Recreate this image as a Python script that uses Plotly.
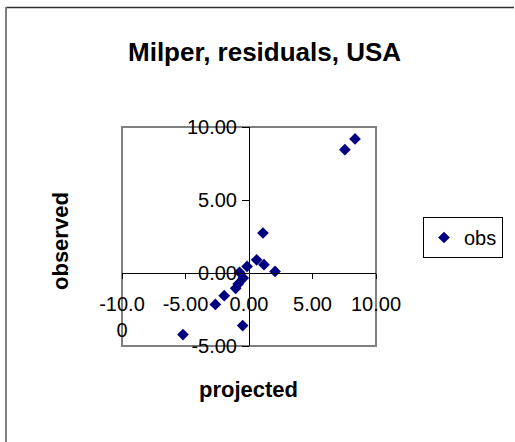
import plotly.graph_objects as go

projected = [8.35, 7.55, 1.10, 0.60, 1.18, 2.05, -0.15, -0.75, -0.45, -0.85, -1.05, -1.95, -2.65, -0.50, -5.20]
observed = [9.18, 8.45, 2.74, 0.90, 0.57, 0.11, 0.45, 0.05, -0.35, -0.75, -1.05, -1.55, -2.15, -3.60, -4.22]

x_ticks = [-10, -5, 0, 5, 10]
x_ticktext = ["-10.0<br>0", "-5.00", "0.00", "5.00", "10.00"]
y_ticks = [-5, 0, 5, 10]
y_ticktext = ["-5.00", "0.00", "5.00", "10.00"]

FONT = "Arial, Liberation Sans, sans-serif"

fig = go.Figure()
fig.add_trace(go.Scatter(
    x=projected, y=observed, mode="markers", name="obs",
    marker=dict(symbol="diamond", size=9, color="#000080", line=dict(width=0)),
    cliponaxis=False,
))

W, H = 515, 442
L, R, T, B = 122, 139, 127, 96
pw, ph = W - L - R, H - T - B

def px_x(p):
    return (p - L) / pw

def px_y(p):
    return (H - B - p) / ph

fig.update_layout(
    width=W, height=H,
    margin=dict(l=L, r=R, t=T, b=B, pad=0, autoexpand=False),
    paper_bgcolor="white", plot_bgcolor="white",
    font=dict(family=FONT, size=20, color="black"),
    showlegend=True,
    legend=dict(
        x=px_x(423), y=px_y(217), xanchor="left", yanchor="top",
        bordercolor="black", borderwidth=1, bgcolor="white",
        font=dict(size=20), itemwidth=30,
    ),
    xaxis=dict(
        range=[-10, 10], anchor="free", position=1/3,
        tickvals=x_ticks, ticktext=x_ticktext,
        showgrid=False, zeroline=False,
        showline=True, linecolor="black", linewidth=1,
        ticks="outside", ticklen=5, tickcolor="black",
        ticklabelstandoff=8,
    ),
    yaxis=dict(
        range=[-5, 10], anchor="free", position=0.5,
        tickvals=y_ticks, ticktext=y_ticktext,
        showgrid=False, zeroline=False,
        showline=True, linecolor="black", linewidth=1,
        ticks="outside", ticklen=7, tickcolor="black",
        ticklabelstandoff=1,
    ),
    shapes=[
        dict(type="rect", xref="paper", yref="paper", x0=0, x1=1, y0=0, y1=1,
             line=dict(color="#808080", width=2), layer="below"),
        dict(type="line", xref="paper", yref="paper",
             x0=px_x(6), x1=px_x(514), y0=px_y(7.5), y1=px_y(7.5),
             line=dict(color="#303030", width=1.5)),
        dict(type="line", xref="paper", yref="paper",
             x0=px_x(6), x1=px_x(6), y0=px_y(7), y1=px_y(442),
             line=dict(color="#808080", width=2)),
    ],
    annotations=[
        dict(text="<b>Milper, residuals, USA</b>", xref="paper", yref="paper",
             x=px_x(264), y=px_y(52), xanchor="center", yanchor="middle",
             showarrow=False, font=dict(size=26)),
        dict(text="<b>projected</b>", xref="paper", yref="paper",
             x=px_x(248), y=px_y(389), xanchor="center", yanchor="middle",
             showarrow=False, font=dict(size=22)),
        dict(text="<b>observed</b>", xref="paper", yref="paper",
             x=px_x(60), y=px_y(241), xanchor="center", yanchor="middle",
             showarrow=False, textangle=-90, font=dict(size=22)),
    ],
)

fig.write_html("out.html")
